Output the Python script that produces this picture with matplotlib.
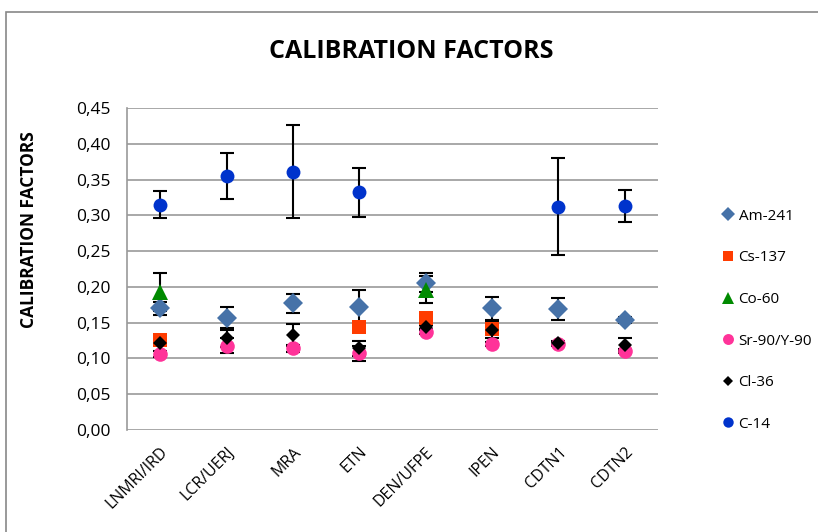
import numpy as np
import matplotlib.pyplot as plt
from matplotlib.patches import Rectangle

labs = ["LNMRI/IRD", "LCR/UERJ", "MRA", "ETN", "DEN/UFPE", "IPEN", "CDTN1", "CDTN2"]
nan = np.nan

am241 = [0.170, 0.157, 0.177, 0.172, 0.206, 0.170, 0.169, 0.154]
am241_err = [0.009, 0.015, 0.013, 0.023, 0.013, 0.016, 0.015, 0.004]
cs137 = [0.126, nan, nan, 0.144, 0.157, 0.141, nan, nan]
cs137_err = [0.004, nan, nan, 0.005, 0.004, 0.004, nan, nan]
co60 = [0.193, nan, nan, nan, 0.196, nan, nan, nan]
co60_err = [0.027, nan, nan, nan, 0.019, nan, nan, nan]
sr90 = [0.106, 0.118, 0.114, 0.107, 0.137, 0.120, 0.120, 0.110]
sr90_err = [0.004, 0.011, 0.005, 0.010, 0.003, 0.003, 0.003, 0.003]
cl36 = [0.122, 0.128, 0.133, 0.114, 0.144, 0.140, 0.122, 0.119]
cl36_err = [0.003, 0.012, 0.015, 0.010, 0.003, 0.012, 0.003, 0.009]
c14 = [0.315, 0.355, 0.361, 0.332, nan, nan, 0.312, 0.313]
c14_err = [0.019, 0.032, 0.065, 0.034, nan, nan, 0.068, 0.022]

plt.rcParams['font.family'] = ['Open Sans', 'DejaVu Sans']

fig = plt.figure(figsize=(8.18, 5.32), dpi=100)
fig.patches.append(Rectangle((6/818, -0.1), 1.2, 0.9774 + 0.1, transform=fig.transFigure,
                             fill=False, edgecolor="#888888", linewidth=1.2))
ax = fig.add_axes([127/818, 1 - 430/532, 531/818, 322/532])

x = np.arange(len(labs))
series = [
    ("Am-241", am241, am241_err, "D", "#4672A8", 10),
    ("Cs-137", cs137, cs137_err, "s", "#FF3C00", 10.5),
    ("Co-60", co60, co60_err, "^", "#008A00", 11),
    ("Sr-90/Y-90", sr90, sr90_err, "o", "#FF3399", 10.5),
    ("Cl-36", cl36, cl36_err, "D", "black", 7),
    ("C-14", c14, c14_err, "o", "#0033CC", 10),
]
handles = []
for name, y, e, m, c, ms in series:
    ax.errorbar(x, y, yerr=e, fmt="none", ecolor="black", elinewidth=1.5,
                capsize=5, capthick=1.5, zorder=3)
    h, = ax.plot(x, y, linestyle="none", marker=m, color=c, markersize=ms,
                 markeredgewidth=0, label=name, zorder=4)
    handles.append(h)

ax.set_xlim(-0.5, len(labs) - 0.5)
ax.set_ylim(0, 0.45)
ax.set_yticks(np.arange(0, 0.451, 0.05))
ax.set_yticklabels([f"{v:.2f}".replace(".", ",") for v in np.arange(0, 0.451, 0.05)],
                   fontsize=12.5)
ax.set_xticks(x)
ax.set_xticklabels(labs, rotation=45, ha="right", rotation_mode="anchor", fontsize=11.5)
ax.tick_params(axis="y", length=0, pad=12)
ax.tick_params(axis="x", length=0, pad=10)
ax.grid(axis="y", color="#999999", linewidth=1.2)
ax.set_axisbelow(True)
for s in ["top", "right", "bottom"]:
    ax.spines[s].set_visible(False)
ax.spines["left"].set_color("#999999")
ax.spines["left"].set_linewidth(1.2)

ax.set_ylabel("CALIBRATION FACTORS", fontsize=12.5, fontweight="bold")
ax.yaxis.set_label_coords((38 - 127) / 531, (430 - 230) / 322)
fig.text(411/818, 1 - 51/532, "CALIBRATION FACTORS", ha="center", va="center",
         fontsize=18, fontweight="bold")

fig.legend(handles=handles, loc="upper left", bbox_to_anchor=(708/818, 1 - 195/532),
           frameon=False, fontsize=11, labelspacing=1.74, handlelength=0.8,
           handletextpad=0.3, markerscale=0.75)

fig.savefig("out.png", dpi=100)
